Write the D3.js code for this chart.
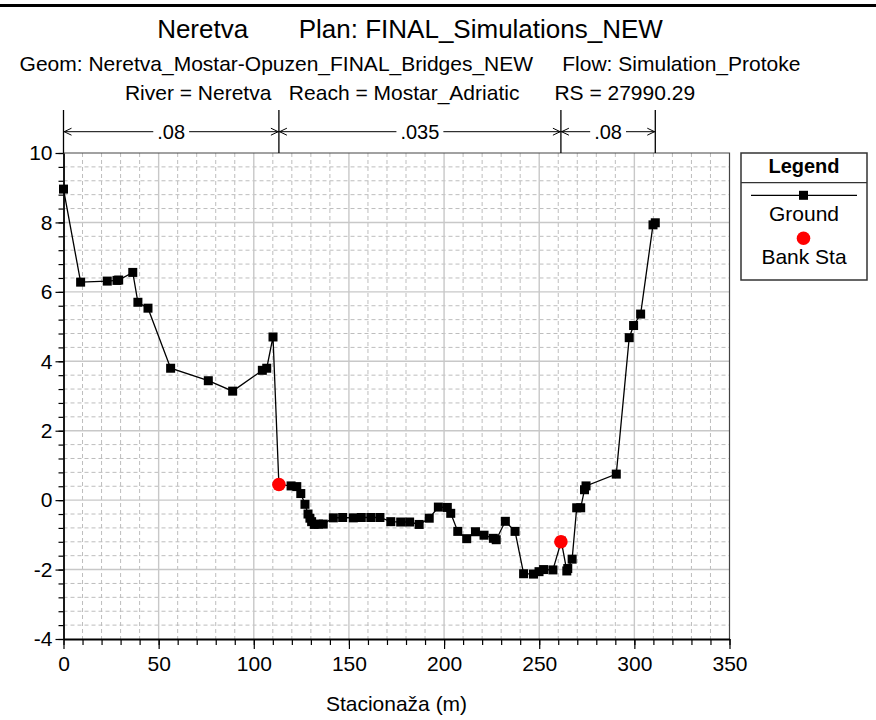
<!DOCTYPE html>
<html>
<head>
<meta charset="utf-8">
<script src="https://cdn.jsdelivr.net/npm/d3@7"></script>
<style>
  body { margin: 0; background: #fff; }
  svg { font-family: "Liberation Sans", Arial, sans-serif; }
</style>
</head>
<body>
<svg id="chart" width="876" height="720"></svg>
<script>
// Ground profile (station m, elevation m)
const groundX = [0, 9.0, 23.0, 28.1, 29.0, 36.4, 39.1, 44.4, 56.3, 76.1, 88.9, 104.5, 106.8, 110.1,
  113.2, 119.6, 122.6, 124.7, 126.9, 128.5, 129.5, 130.4, 131.8, 134.0, 136.5, 141.8, 146.7,
  152.3, 156.5, 161.5, 166.3, 172.0, 177.2, 181.9, 186.9, 192.2, 197.0, 201.7, 203.5, 207.2,
  211.9, 216.5, 221.0, 225.9, 227.4, 232.2, 237.3, 241.8, 247.0, 249.9, 252.3, 257.2, 261.6,
  264.5, 265.0, 267.3, 269.7, 271.8, 273.8, 274.6, 290.5, 297.3, 299.6, 303.3, 309.8, 311.0];
const groundY = [8.96, 6.28, 6.31, 6.33, 6.34, 6.56, 5.70, 5.53, 3.80, 3.44, 3.14, 3.74, 3.80, 4.70,
  0.45, 0.41, 0.39, 0.19, -0.12, -0.40, -0.52, -0.62, -0.70, -0.69, -0.69, -0.51, -0.50,
  -0.51, -0.50, -0.50, -0.50, -0.62, -0.63, -0.63, -0.70, -0.52, -0.20, -0.21, -0.38, -0.90,
  -1.11, -0.91, -1.01, -1.10, -1.14, -0.61, -0.90, -2.12, -2.13, -2.06, -2.00, -2.01, -1.18,
  -2.04, -1.97, -1.70, -0.22, -0.22, 0.30, 0.41, 0.75, 4.68, 5.03, 5.36, 7.93, 7.99];

// Bank stations
const bankX = [113.2, 261.4];
const bankY = [0.45, -1.20];

// Manning's n regions
const nBreaks = [0, 113.2, 261.4, 311.0];
const nValues = [".08", ".035", ".08"];

// Axis ticks
const xTicks = [0, 50, 100, 150, 200, 250, 300, 350];
const xMinorTicks = d3.range(0, 351, 10);
const yTicks = [-4, -2, 0, 2, 4, 6, 8, 10];
const yMinorTicks = d3.range(-4, 10.01, 0.4);

const titleLines = [
  "Neretva       Plan: FINAL_Simulations_NEW",
  "Geom: Neretva_Mostar-Opuzen_FINAL_Bridges_NEW     Flow: Simulation_Protoke",
  "River = Neretva   Reach = Mostar_Adriatic      RS = 27990.29",
];

const svg = d3.select("#chart");
const plot = { left: 63.5, right: 729.5, top: 153, bottom: 639 };

const x = d3.scaleLinear().domain([0, 350]).range([plot.left, plot.right]);
const y = d3.scaleLinear().domain([-4, 10]).range([plot.bottom, plot.top]);

// Thick rule across the top
svg.append("line")
  .attr("x1", 0).attr("x2", 876)
  .attr("y1", 5.5).attr("y2", 5.5)
  .attr("stroke", "#000")
  .attr("stroke-width", 3);

// Title block
const titleY = [38, 70.5, 100];
const titleSize = [26, 21, 21];
titleLines.forEach((t, i) => {
  svg.append("text")
    .attr("x", 410)
    .attr("y", titleY[i])
    .attr("text-anchor", "middle")
    .attr("xml:space", "preserve")
    .style("white-space", "pre")
    .style("font-size", titleSize[i] + "px")
    .text(t);
});

// Grid: minor dashed, major solid
const grid = svg.append("g");
xMinorTicks.filter((d) => d % 50 !== 0).forEach((d) => {
  grid.append("line")
    .attr("x1", x(d)).attr("x2", x(d))
    .attr("y1", plot.top).attr("y2", plot.bottom)
    .attr("stroke", "#bdbdbd").attr("stroke-dasharray", "4,3");
});
yMinorTicks.filter((d) => Math.abs(d / 2 - Math.round(d / 2)) > 0.01).forEach((d) => {
  grid.append("line")
    .attr("x1", plot.left).attr("x2", plot.right)
    .attr("y1", y(d)).attr("y2", y(d))
    .attr("stroke", "#bdbdbd").attr("stroke-dasharray", "4,3");
});
xTicks.slice(1, -1).forEach((d) => {
  grid.append("line")
    .attr("x1", x(d)).attr("x2", x(d))
    .attr("y1", plot.top).attr("y2", plot.bottom)
    .attr("stroke", "#c8c8c8").attr("stroke-width", 1.4);
});
yTicks.slice(1, -1).forEach((d) => {
  grid.append("line")
    .attr("x1", plot.left).attr("x2", plot.right)
    .attr("y1", y(d)).attr("y2", y(d))
    .attr("stroke", "#c8c8c8").attr("stroke-width", 1.4);
});

// Frame top / right
svg.append("path")
  .attr("d", `M${plot.left},${plot.top}H${plot.right}V${plot.bottom}`)
  .attr("fill", "none")
  .attr("stroke", "#444")
  .attr("stroke-width", 1.2);

// Axes (plain hyphen for negatives, like the original)
const fmt = (d) => String(d);
const xMinorAxis = svg.append("g")
  .attr("transform", `translate(0,${plot.bottom})`)
  .call(d3.axisBottom(x).tickValues(xMinorTicks).tickSize(6).tickSizeOuter(0).tickFormat(""));
const xAxis = svg.append("g")
  .attr("transform", `translate(0,${plot.bottom})`)
  .call(d3.axisBottom(x).tickValues(xTicks).tickSize(10).tickSizeOuter(0).tickPadding(7).tickFormat(fmt));
const yMinorAxis = svg.append("g")
  .attr("transform", `translate(${plot.left},0)`)
  .call(d3.axisLeft(y).tickValues(yMinorTicks).tickSize(5).tickSizeOuter(0).tickFormat(""));
const yAxis = svg.append("g")
  .attr("transform", `translate(${plot.left},0)`)
  .call(d3.axisLeft(y).tickValues(yTicks).tickSize(8).tickSizeOuter(0).tickPadding(3).tickFormat(fmt));

[xMinorAxis, xAxis, yMinorAxis, yAxis].forEach((g) => {
  g.selectAll("line").attr("stroke", "#000").attr("stroke-width", 1.2);
  g.selectAll("text")
    .style("font-family", "'Liberation Sans', Arial, sans-serif")
    .style("font-size", "21px")
    .attr("fill", "#000");
});
xAxis.select(".domain").attr("stroke", "#000").attr("stroke-width", 2.2);
yAxis.select(".domain").attr("stroke", "#000").attr("stroke-width", 1.6);

// Axis title
svg.append("text")
  .attr("x", (plot.left + plot.right) / 2)
  .attr("y", 711)
  .attr("text-anchor", "middle")
  .style("font-size", "21px")
  .text("Stacionaža (m)");

// Manning's n bar above the plot
const nY = 131.7;
const nBar = svg.append("g");
nBreaks.forEach((d) => {
  nBar.append("line")
    .attr("x1", x(d)).attr("x2", x(d))
    .attr("y1", 110).attr("y2", plot.top)
    .attr("stroke", "#000").attr("stroke-width", 1.3);
});
nValues.forEach((v, i) => {
  const x0 = x(nBreaks[i]);
  const x1 = x(nBreaks[i + 1]);
  const mid = (x0 + x1) / 2;
  const label = nBar.append("text")
    .attr("x", mid)
    .attr("y", nY + 7)
    .attr("text-anchor", "middle")
    .style("font-size", "20px")
    .text(v);
  const half = label.node().getComputedTextLength() / 2 + 4;
  nBar.append("line")
    .attr("x1", x0).attr("x2", mid - half)
    .attr("y1", nY).attr("y2", nY)
    .attr("stroke", "#000");
  nBar.append("line")
    .attr("x1", mid + half).attr("x2", x1)
    .attr("y1", nY).attr("y2", nY)
    .attr("stroke", "#000");
  // open arrowheads pointing to each break
  nBar.append("path")
    .attr("d", `M${x0 + 8},${nY - 3.5}L${x0 + 0.7},${nY}L${x0 + 8},${nY + 3.5}`)
    .attr("fill", "none").attr("stroke", "#000");
  nBar.append("path")
    .attr("d", `M${x1 - 8},${nY - 3.5}L${x1 - 0.7},${nY}L${x1 - 8},${nY + 3.5}`)
    .attr("fill", "none").attr("stroke", "#000");
});

// Ground line and markers
const ground = groundX.map((d, i) => ({ x: d, y: groundY[i] }));
const line = d3.line().x((d) => x(d.x)).y((d) => y(d.y));

svg.append("path")
  .datum(ground)
  .attr("d", line)
  .attr("fill", "none")
  .attr("stroke", "#000")
  .attr("stroke-width", 1.3);

svg.selectAll(".gpt")
  .data(ground)
  .enter()
  .append("rect")
  .attr("class", "gpt")
  .attr("x", (d) => x(d.x) - 4.5)
  .attr("y", (d) => y(d.y) - 4.5)
  .attr("width", 9)
  .attr("height", 9)
  .attr("fill", "#000");

// Bank stations
svg.selectAll(".bank")
  .data(bankX.map((d, i) => ({ x: d, y: bankY[i] })))
  .enter()
  .append("circle")
  .attr("class", "bank")
  .attr("cx", (d) => x(d.x))
  .attr("cy", (d) => y(d.y))
  .attr("r", 6.8)
  .attr("fill", "#ff0000");

// Legend
const legend = svg.append("g");
legend.append("rect")
  .attr("x", 741).attr("y", 153)
  .attr("width", 126).attr("height", 127)
  .attr("fill", "#fff")
  .attr("stroke", "#333")
  .attr("stroke-width", 1.5);
legend.append("line")
  .attr("x1", 741).attr("x2", 867)
  .attr("y1", 182.7).attr("y2", 182.7)
  .attr("stroke", "#333").attr("stroke-width", 1.2);
legend.append("text")
  .attr("x", 804).attr("y", 173)
  .attr("text-anchor", "middle")
  .style("font-size", "20px")
  .style("font-weight", "bold")
  .text("Legend");
legend.append("line")
  .attr("x1", 751).attr("x2", 857)
  .attr("y1", 195.3).attr("y2", 195.3)
  .attr("stroke", "#000").attr("stroke-width", 1.2);
legend.append("rect")
  .attr("x", 799).attr("y", 190.8)
  .attr("width", 9).attr("height", 9)
  .attr("fill", "#000");
legend.append("text")
  .attr("x", 804).attr("y", 221)
  .attr("text-anchor", "middle")
  .style("font-size", "21px")
  .text("Ground");
legend.append("circle")
  .attr("cx", 803.5).attr("cy", 238.3)
  .attr("r", 6.8)
  .attr("fill", "#ff0000");
legend.append("text")
  .attr("x", 804).attr("y", 263.5)
  .attr("text-anchor", "middle")
  .style("font-size", "21px")
  .text("Bank Sta");
</script>
</body>
</html>
